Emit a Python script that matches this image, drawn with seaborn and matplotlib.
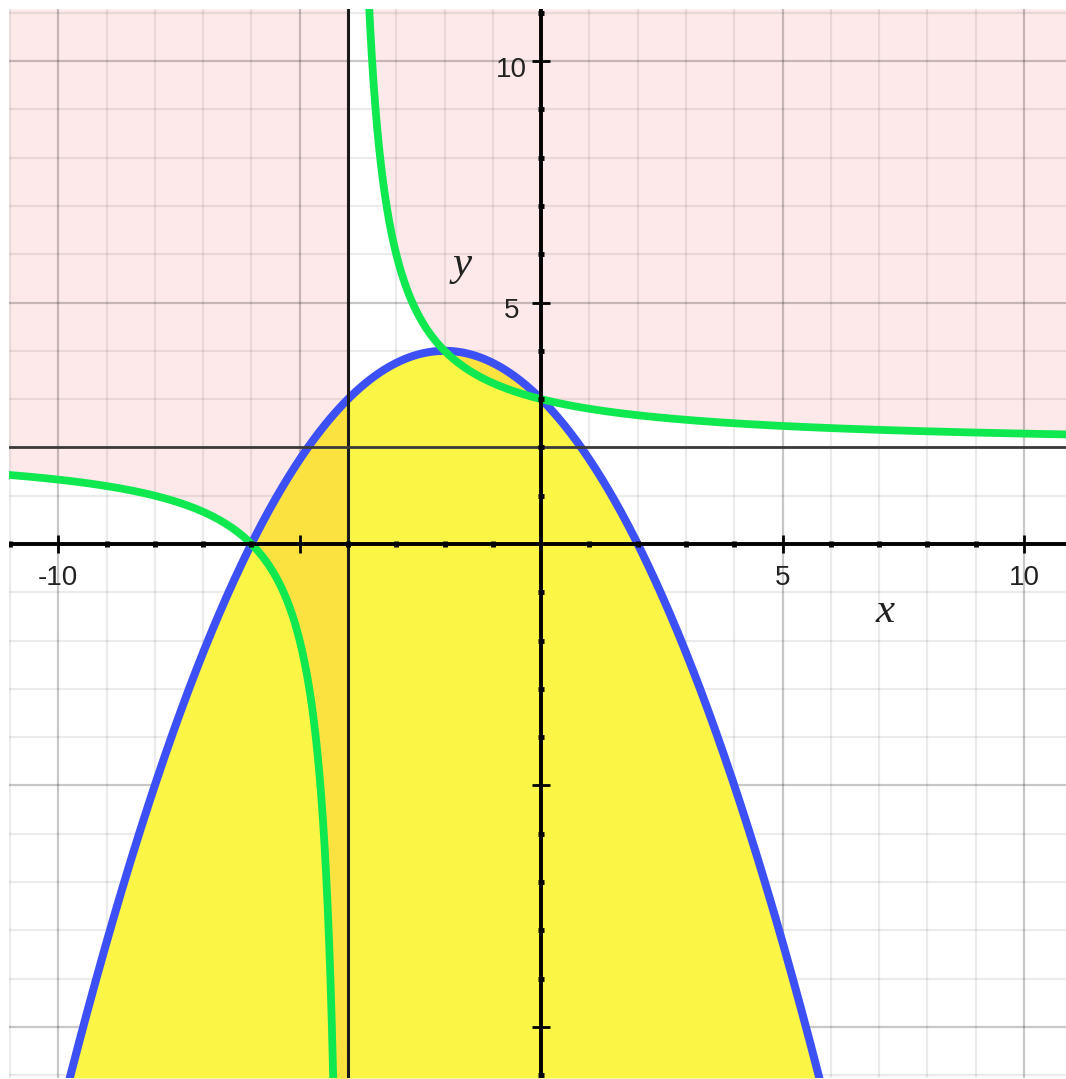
import numpy as np
import matplotlib
matplotlib.use("Agg")
import matplotlib.pyplot as plt
import seaborn as sns

# parabola y = a x^2 + b x + c
parabola_coef = [-0.25, -1.0, 3.0]
# hyperbola y = h + k / (x - v)
hyper_v = -4.0
hyper_h = 2.0
hyper_k = 4.0

# visible window
x_range = [-11.02, 10.87]
y_range = [-11.06, 11.08]

# labelled ticks
x_labels = [-10, 5, 10]
y_labels = [5, 10]

# colours
blue = "#3d50f5"
green = "#10e850"
yellow = "#fbf646"
orange = "#fce240"
pink = "#fde9e9"


def parab(x):
    return np.polyval(parabola_coef, x)


def hyper(x):
    return hyper_h + hyper_k / (x - hyper_v)


sns.set_style("white")
fig = plt.figure(figsize=(10.66, 10.79), dpi=100)
ax = fig.add_axes([9 / 1066, 1 / 1079, 1057 / 1066, 1069 / 1079])
ymin, ymax = y_range

xs_all = np.linspace(x_range[0], x_range[1], 4000)
xs_left = np.linspace(x_range[0], hyper_v - 1e-4, 4000)
xs_right = np.linspace(hyper_v + 1e-4, x_range[1], 4000)

# grid (drawn by hand so it sits between the pink and the yellow)
ix = np.arange(np.ceil(x_range[0]), np.floor(x_range[1]) + 1)
iy = np.arange(np.ceil(y_range[0]), np.floor(y_range[1]) + 1)
for v in ix:
    c = (0, 0, 0, 0.22) if v % 5 == 0 else (0, 0, 0, 0.08)
    ax.axvline(v, color=c, lw=1.6, zorder=0.5)
for v in iy:
    c = (0, 0, 0, 0.22) if v % 5 == 0 else (0, 0, 0, 0.08)
    ax.axhline(v, color=c, lw=1.6, zorder=0.5)

# shaded regions
for xs in (xs_left, xs_right):
    lo = np.clip(hyper(xs), ymin, ymax)
    ax.fill_between(xs, lo, ymax, color=pink, lw=0, zorder=0.2)

top = np.clip(parab(xs_all), ymin, ymax)
ax.fill_between(xs_all, ymin, top, color=yellow, lw=0, zorder=1)

for xs in (xs_left, xs_right):
    lo = np.clip(hyper(xs), ymin, ymax)
    hi = np.clip(parab(xs), ymin, ymax)
    ax.fill_between(xs, lo, hi, where=hi > lo, interpolate=True,
                    color=orange, lw=0, zorder=1.1)

# curves
sns.lineplot(x=xs_all, y=parab(xs_all), color=blue, linewidth=5.8,
             estimator=None, sort=False, ax=ax, zorder=3)
for xs in (xs_left, xs_right):
    sns.lineplot(x=xs, y=hyper(xs), color=green, linewidth=5.6,
                 estimator=None, sort=False, ax=ax, zorder=3.2)

# asymptotes
ax.axvline(hyper_v, color="#1a1a1a", lw=2.2, zorder=4)
ax.axhline(hyper_h, color="#3a3a3a", lw=2.0, zorder=4)

# axes through origin
ax.axhline(0, color="black", lw=2.8, zorder=5)
ax.axvline(0, color="black", lw=2.8, zorder=5)

ix = ix[ix != 0]
iy = iy[iy != 0]
mx, Mx = ix[ix % 5 != 0], ix[ix % 5 == 0]
my, My = iy[iy % 5 != 0], iy[iy % 5 == 0]
ax.plot(mx, np.zeros_like(mx), ls="none", marker="|", ms=5, mew=3.5, color="black", zorder=6)
ax.plot(Mx, np.zeros_like(Mx), ls="none", marker="|", ms=13, mew=2, color="black", zorder=6)
ax.plot(np.zeros_like(my), my, ls="none", marker="_", ms=5, mew=3.5, color="black", zorder=6)
ax.plot(np.zeros_like(My), My, ls="none", marker="_", ms=13, mew=2, color="black", zorder=6)

ax.grid(False)
ax.set_xticks([])
ax.set_yticks([])
for s in ax.spines.values():
    s.set_visible(False)

ax.set_xlim(x_range)
ax.set_ylim(y_range)
ax.set_xlabel("")
ax.set_ylabel("")

# tick labels
for v in x_labels:
    ax.text(v, -0.85, str(v), ha="center", va="baseline", fontsize=20,
            family="Liberation Sans", color="#222222", zorder=7)
for v in y_labels:
    ax.text(-0.62, v - 0.32, str(v), ha="center", va="baseline", fontsize=20,
            family="Liberation Sans", color="#222222", zorder=7)

# axis names
ax.text(7.13, -1.62, "x", ha="center", va="baseline", fontsize=31,
        family="Liberation Serif", style="italic", color="#222222", zorder=7)
ax.text(-1.64, 5.57, "y", ha="center", va="baseline", fontsize=31,
        family="Liberation Serif", style="italic", color="#222222", zorder=7)

fig.savefig("out.png", dpi=100)
